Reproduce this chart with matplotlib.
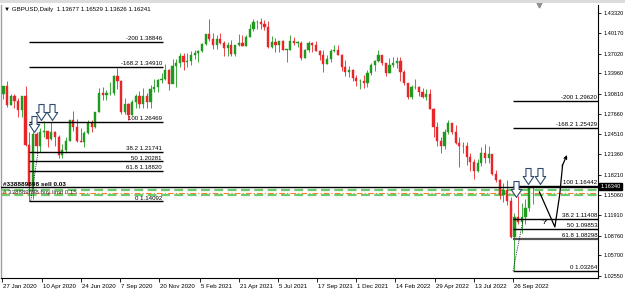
import matplotlib
matplotlib.use("Agg")
import matplotlib.pyplot as plt
from matplotlib.path import Path
from matplotlib.transforms import blended_transform_factory
import numpy as np

plt.rcParams['font.family'] = ['Liberation Sans', 'DejaVu Sans']

# ---------------- data (weekly candles, week 0 = week of 27 Jan 2020) -------------
first_open = 1.3070
closes = [1.3200, 1.2900, 1.3050, 1.2960, 1.2820, 1.3045, 1.2280, 1.1640, 1.2460, 1.2270,
          1.2480, 1.2500, 1.2370, 1.2490, 1.2410, 1.2130, 1.2200, 1.2345, 1.2670, 1.2560,
          1.2350, 1.2335, 1.2470, 1.2620, 1.2570, 1.2790, 1.3090, 1.3055, 1.3090, 1.3090,
          1.3350, 1.3275, 1.2795, 1.2915, 1.2745, 1.2945, 1.3045, 1.2915, 1.3040, 1.2945,
          1.3150, 1.3190, 1.3285, 1.3315, 1.3440, 1.3230, 1.3515, 1.3555, 1.3670, 1.3565,
          1.3590, 1.3685, 1.3705, 1.3735, 1.3850, 1.4010, 1.3925, 1.3835, 1.3930, 1.3865,
          1.3790, 1.3830, 1.3700, 1.3840, 1.3870, 1.3815, 1.3960, 1.4090, 1.4185, 1.4190,
          1.4160, 1.4110, 1.3800, 1.3880, 1.3830, 1.3890, 1.3760, 1.3760, 1.3900, 1.3870,
          1.3870, 1.3630, 1.3760, 1.3860, 1.3840, 1.3740, 1.3680, 1.3540, 1.3620, 1.3740,
          1.3755, 1.3680, 1.3490, 1.3420, 1.3440, 1.3330, 1.3270, 1.3270, 1.3240, 1.3400,
          1.3530, 1.3580, 1.3680, 1.3550, 1.3400, 1.3530, 1.3560, 1.3590, 1.3410, 1.3240,
          1.3035, 1.3180, 1.3180, 1.3110, 1.3035, 1.3070, 1.2840, 1.2570, 1.2340, 1.2260,
          1.2490, 1.2620, 1.2490, 1.2310, 1.2270, 1.2260, 1.2100, 1.2020, 1.1875, 1.2000,
          1.2165, 1.2075, 1.2140, 1.1830, 1.1740, 1.1510, 1.1590, 1.1410, 1.0860, 1.1170,
          1.1090, 1.1170, 1.1300, 1.1620, 1.1634]
highs = [1.3206, 1.3280, 1.3070, 1.3070, 1.3010, 1.3030, 1.3200, 1.2480, 1.2480, 1.2485,
         1.2545, 1.2650, 1.2450, 1.2645, 1.2500, 1.2440, 1.2300, 1.2410, 1.2670, 1.2812,
         1.2690, 1.2540, 1.2505, 1.2670, 1.2670, 1.2800, 1.3170, 1.3185, 1.3140, 1.3265,
         1.3370, 1.3482, 1.3285, 1.3005, 1.2935, 1.2975, 1.3080, 1.3120, 1.3175, 1.3085,
         1.3210, 1.3310, 1.3310, 1.3400, 1.3540, 1.3470, 1.3625, 1.3625, 1.3705, 1.3705,
         1.3710, 1.3745, 1.3760, 1.3765, 1.3865, 1.4010, 1.4241, 1.4015, 1.3990, 1.4015,
         1.3890, 1.3885, 1.3920, 1.3830, 1.4010, 1.3990, 1.3985, 1.4165, 1.4235, 1.4220,
         1.4250, 1.4220, 1.4210, 1.3975, 1.3945, 1.3895, 1.3910, 1.3780, 1.3985, 1.3960,
         1.3890, 1.3890, 1.3780, 1.3890, 1.3885, 1.3890, 1.3750, 1.3750, 1.3675, 1.3770,
         1.3835, 1.3830, 1.3700, 1.3610, 1.3515, 1.3455, 1.3375, 1.3300, 1.3375, 1.3440,
         1.3550, 1.3600, 1.3750, 1.3685, 1.3555, 1.3630, 1.3645, 1.3645, 1.3645, 1.3440,
         1.3245, 1.3215, 1.3300, 1.3200, 1.3165, 1.3145, 1.3150, 1.2850, 1.2640, 1.2405,
         1.2525, 1.2665, 1.2600, 1.2600, 1.2405, 1.2325, 1.2330, 1.2165, 1.2060, 1.2065,
         1.2250, 1.2295, 1.2275, 1.2140, 1.1900, 1.1760, 1.1690, 1.1740, 1.1475, 1.1235,
         1.1495, 1.1380, 1.1440, 1.1645, 1.1653]
lows = [1.2990, 1.2870, 1.2910, 1.2850, 1.2725, 1.2725, 1.2260, 1.1409, 1.1450, 1.2165,
        1.2170, 1.2410, 1.2245, 1.2360, 1.2265, 1.2075, 1.2075, 1.2165, 1.2340, 1.2500,
        1.2330, 1.2335, 1.2252, 1.2460, 1.2480, 1.2550, 1.2790, 1.2985, 1.2980, 1.3060,
        1.3060, 1.3150, 1.2765, 1.2765, 1.2675, 1.2750, 1.2860, 1.2860, 1.2860, 1.2855,
        1.2855, 1.3105, 1.3105, 1.3240, 1.3285, 1.3135, 1.3285, 1.3190, 1.3490, 1.3450,
        1.3490, 1.3520, 1.3615, 1.3565, 1.3730, 1.3840, 1.3890, 1.3780, 1.3780, 1.3850,
        1.3670, 1.3670, 1.3670, 1.3670, 1.3820, 1.3820, 1.3820, 1.3960, 1.4050, 1.4090,
        1.4080, 1.4070, 1.3785, 1.3790, 1.3730, 1.3730, 1.3760, 1.3572, 1.3760, 1.3840,
        1.3800, 1.3600, 1.3630, 1.3730, 1.3725, 1.3735, 1.3610, 1.3410, 1.3545, 1.3570,
        1.3730, 1.3680, 1.3425, 1.3355, 1.3345, 1.3280, 1.3195, 1.3160, 1.3170, 1.3185,
        1.3370, 1.3430, 1.3575, 1.3520, 1.3360, 1.3400, 1.3490, 1.3485, 1.3275, 1.3220,
        1.3000, 1.3000, 1.3145, 1.3050, 1.3005, 1.2975, 1.2840, 1.2410, 1.2275, 1.2155,
        1.2225, 1.2460, 1.2460, 1.2300, 1.1935, 1.2160, 1.1975, 1.1875, 1.1760, 1.1860,
        1.1950, 1.2005, 1.2005, 1.1815, 1.1715, 1.1445, 1.1405, 1.1350, 1.0840, 1.0326,
        1.1055, 1.0925, 1.1060, 1.1255, 1.1363]

date_labels = ["27 Jan 2020", "10 Apr 2020", "24 Jun 2020", "7 Sep 2020", "20 Nov 2020",
               "5 Feb 2021", "21 Apr 2021", "5 Jul 2021", "17 Sep 2021", "1 Dec 2021",
               "14 Feb 2022", "29 Apr 2022", "13 Jul 2022", "26 Sep 2022"]
date_pos = [0.0, 10.8, 21.4, 32.0, 42.8, 53.8, 64.4, 75.0, 85.8, 96.4, 107.0, 117.8, 128.4, 139.0]

price_ticks = [1.43320, 1.40170, 1.37020, 1.33960, 1.30810, 1.27660, 1.24510, 1.21360,
               1.18210, 1.15060, 1.11910, 1.08760, 1.05700, 1.02550]
bid_price = 1.16340

fib_left_levels = [-200, -168.2, 100, 38.2, 50, 61.8, 0]
fib_left_prices = [1.38846, 1.34910, 1.26469, 1.21741, 1.20281, 1.18820, 1.14092]
fib_left_span = (7.35, 43.8)
fib_right_levels = [-200, -168.2, 100, 38.2, 50, 61.8, 0]
fib_right_prices = [1.29620, 1.25429, 1.16442, 1.11408, 1.09853, 1.08298, 1.03264]
fib_right_span = (139.0, 162.1)

order_lines = [1.1588, 1.1534, 1.1505]

arrow_x = [8.57, 10.74, 13.6, 139.8, 143.2, 146.4]
arrow_y = [1.2609, 1.2803, 1.2803, 1.1593, 1.1802, 1.1802]

sketch_x = [146.2, 150.4, 151.7, 152.5]
sketch_y = [1.1554, 1.1011, 1.1507, 1.1973]

header = "GBPUSD,Daily  1.13677 1.16529 1.13626 1.16241"

# ---------------- figure ----------------
W, H = 625, 290
fig = plt.figure(figsize=(W / 100, H / 100), dpi=100)
ax = fig.add_axes([1 / W, 12 / H, 597 / W, 273 / H])
ax.set_xlim(-0.272, 162.13)
ax.set_ylim(1.0219, 1.4456)

up_c = '#1e9a1e'
dn_c = '#e8262a'
opens = [first_open] + closes[:-1]
xs = np.arange(len(closes)) + 0.4
for x, o, h, l, c in zip(xs, opens, highs, lows, closes):
    col = up_c if c >= o else dn_c
    ax.vlines(x, l, h, color=col, lw=0.6, zorder=3)
    ax.bar(x, max(abs(c - o), 0.0006), bottom=min(o, c), width=0.6,
           color=col, edgecolor=col, lw=0.3, zorder=3)

# bid line and order lines
ax.axhline(bid_price, color='black', lw=1.0, zorder=4)
ax.axhline(order_lines[0], color='#6ccb6c', lw=1.6, ls=(0, (4, 2)), zorder=2)
ax.axhline(order_lines[1], color='#ff7a2a', lw=0.8, ls=(0, (5, 2, 1, 2)), zorder=2)
ax.axhline(order_lines[2], color='#6ccb6c', lw=1.6, ls=(0, (4, 2)), zorder=2)

fs = 4.4
tfs = 4.0
# fibonacci sets
for lev, p in zip(fib_left_levels, fib_left_prices):
    ax.hlines(p, *fib_left_span, color='black', lw=1.0, zorder=5)
    ax.text(fib_left_span[1] - 0.3, p + 0.0012, f"{lev:g} {p:.5f}", fontsize=fs,
            ha='right', va='bottom', zorder=6)
for lev, p in zip(fib_right_levels, fib_right_prices):
    col = '#555555' if lev == 61.8 else 'black'
    lw = 1.6 if lev == 61.8 else 1.0
    ax.hlines(p, *fib_right_span, color=col, lw=lw, zorder=5)
    ax.text(fib_right_span[1] - 0.2, p + 0.0012, f"{lev:g} {p:.5f}", fontsize=fs,
            ha='right', va='bottom', zorder=6)

# dotted fib base lines
ax.plot([7.8, 9.8], [1.1409, 1.2174], color='black', lw=0.6, ls=(0, (1, 1.2)), zorder=5)
ax.plot([139.0, 141.7], [1.0328, 1.1104], color='black', lw=0.6, ls=(0, (1, 1.2)), zorder=5)

# hollow down arrows
arrow_path = Path([(-0.16, 0.5), (0.16, 0.5), (0.16, 0.0), (0.33, 0.0), (0.0, -0.5),
                   (-0.33, 0.0), (-0.16, 0.0), (-0.16, 0.5)],
                  [Path.MOVETO] + [Path.LINETO] * 6 + [Path.CLOSEPOLY])
ax.plot(arrow_x, arrow_y, ls='none', marker=arrow_path, markersize=11.5,
        mfc='white', mec='#2f4a6e', mew=0.8, zorder=7)

# hand-drawn scenario line
ax.plot(sketch_x, sketch_y, color='black', lw=0.9, zorder=7)
ax.annotate('', xy=(153.7, 1.2128), xytext=(152.4, 1.1960),
            arrowprops=dict(arrowstyle='->', color='black', lw=0.9,
                            mutation_scale=5, shrinkA=0, shrinkB=0), zorder=7)
ax.text(147.4, 1.1073, "?", fontsize=6, fontweight='bold', ha='center', va='center', zorder=7)

# order labels
ax.text(0.3, 1.1675, "#338889898 sell 0.03", fontsize=4.6, fontweight='bold',
        ha='left', va='center', zorder=8)
ax.text(0.3, 1.1545, "# 338889898 buy limit 0.15", fontsize=4.4, color='#333333',
        ha='left', va='center', zorder=8)

# axes styling
ax.spines['top'].set_visible(False)
ax.spines['left'].set_color('#a0a0a0')
ax.spines['left'].set_linewidth(1.0)
ax.spines['bottom'].set_color('black')
ax.spines['bottom'].set_linewidth(0.8)
ax.spines['right'].set_color('black')
ax.spines['right'].set_linewidth(0.8)

ax.yaxis.tick_right()
ax.set_yticks(price_ticks)
ax.set_yticklabels([f"{p:.5f}" for p in price_ticks])
ax.tick_params(axis='y', direction='out', length=2.5, width=0.6, labelsize=tfs, pad=1.5)
ax.set_xticks(date_pos)
ax.set_xticklabels([])
ax.tick_params(axis='x', direction='out', length=3, width=0.6)
tr = blended_transform_factory(ax.transData, ax.transAxes)
for pos, lab in zip(date_pos, date_labels):
    ax.text(pos + 0.25, -0.022, lab, transform=tr, fontsize=fs, ha='left', va='top')

# current price label
trp = blended_transform_factory(ax.transAxes, ax.transData)
ax.text(1.004, bid_price, f"{bid_price:.5f}", transform=trp, fontsize=tfs, color='white',
        ha='left', va='center', zorder=9,
        bbox=dict(boxstyle='square,pad=0.2', fc='black', ec='black'))

# chart shift marker
ax.plot([146.2], [1.4456], marker='v', color='#909090', ms=3.5, clip_on=False, zorder=9)

# header and window strip
fig.text(4 / W, 1 - 10 / H, "\u25BC " + header, fontsize=fs, ha='left', va='center')
fig.patches.append(plt.Rectangle((0, 1 - 3 / H), 1, 3 / H, transform=fig.transFigure,
                                 fc='#dcdcdc', ec='none'))

fig.savefig("out.png", dpi=100)
